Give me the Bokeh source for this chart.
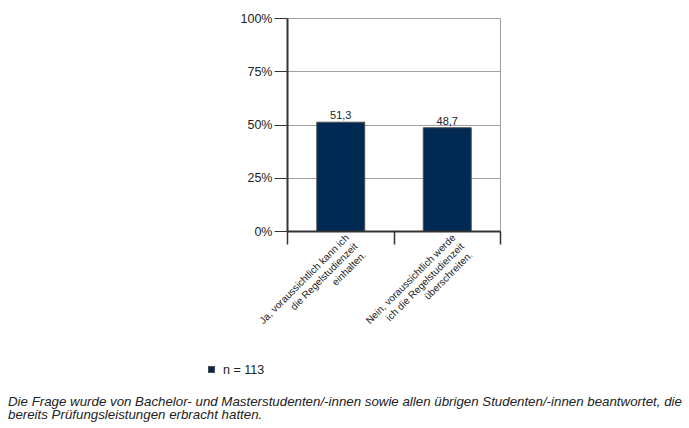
import math
from bokeh.plotting import figure
from bokeh.layouts import column
from bokeh.models import (ColumnDataSource, LabelSet, FixedTicker, Range1d, LinearAxis, Div)
from bokeh.core.properties import value
from bokeh.embed import file_html
from bokeh.resources import INLINE

categories = ["Ja, voraussichtlich kann ich\ndie Regelstudienzeit\neinhalten.",
              "Nein, voraussichtlich werde\nich die Regelstudienzeit\nüberschreiten."]
values = [51.3, 48.7]
y_ticks = [0, 25, 50, 75, 100]
y_tick_labels = ["0%", "25%", "50%", "75%", "100%"]
legend_label = "n = 113"
footnote = ["Die Frage wurde von Bachelor- und Masterstudenten/-innen sowie allen übrigen Studenten/-innen beantwortet, die",
            "bereits Prüfungsleistungen erbracht hatten."]

FONT = "Liberation Sans"
BAR = "#002a54"
EDGE = "#4d4d4d"
TXT = "#222222"
LABEL_SHIFT = 0.14  # category labels sit a little right of the bar centre

# ---------------- chart ----------------
p = figure(frame_width=213, frame_height=213, output_backend="svg", toolbar_location=None,
           x_range=Range1d(0, len(categories)), y_range=Range1d(0, 100),
           min_border_left=287, min_border_right=189, min_border_top=18, min_border_bottom=132)
p.background_fill_color = "white"
p.border_fill_color = "white"
p.outline_line_color = "#a0a0a0"
p.outline_line_width = 1

xs = [i + 0.5 for i in range(len(categories))]
src = ColumnDataSource(dict(x=xs, top=values, txt=[f"{v:.1f}".replace(".", ",") for v in values]))
bars = p.vbar(x="x", top="top", width=0.45, source=src, fill_color=BAR, line_color=EDGE, line_width=1)

p.add_layout(LabelSet(x="x", y="top", text="txt", source=src, y_offset=3, text_align="center",
                      text_baseline="bottom", text_font=value(FONT), text_font_size="11px",
                      text_color=TXT))

p.yaxis.ticker = FixedTicker(ticks=y_ticks)
p.yaxis.major_label_overrides = {t: l for t, l in zip(y_ticks, y_tick_labels)}
p.yaxis.major_tick_out = 13
p.yaxis.major_tick_in = 0
p.yaxis.minor_tick_line_color = None
p.yaxis.axis_line_color = "#333333"
p.yaxis.axis_line_width = 2
p.yaxis.major_tick_line_color = "#333333"
p.yaxis.major_label_text_font = FONT
p.yaxis.major_label_text_font_size = "12.5px"
p.yaxis.major_label_text_color = TXT
p.yaxis.major_label_standoff = 2

p.xaxis.ticker = FixedTicker(ticks=list(range(len(categories) + 1)))
p.xaxis.major_label_overrides = {i: "" for i in range(len(categories) + 1)}
p.xaxis.major_label_standoff = 0
p.xaxis.major_tick_out = 13
p.xaxis.major_tick_in = 0
p.xaxis.minor_tick_line_color = None
p.xaxis.axis_line_color = "#333333"
p.xaxis.axis_line_width = 2
p.xaxis.major_tick_line_color = "#333333"
p.xaxis.major_tick_line_width = 1.5

label_pos = [round(x + LABEL_SHIFT, 2) for x in xs]
cat_axis = LinearAxis(ticker=FixedTicker(ticks=label_pos),
                      major_label_overrides={x: c for x, c in zip(label_pos, categories)},
                      major_label_orientation=math.pi / 4,
                      major_tick_out=0, major_tick_in=0, minor_tick_line_color=None,
                      axis_line_color=None, major_tick_line_color=None,
                      major_label_standoff=0,
                      major_label_text_font=FONT, major_label_text_font_size="10px",
                      major_label_text_color=TXT, major_label_text_line_height=1.1)
p.add_layout(cat_axis, "below")

p.xgrid.grid_line_color = None
p.ygrid.grid_line_color = "#a0a0a0"
p.ygrid.ticker = FixedTicker(ticks=y_ticks)

# ---------------- legend + footnote ----------------
html = (
    f'<div style="position:relative;width:689px;height:65px;font-family:\'{FONT}\',Arial,sans-serif;color:{TXT};">'
    f'<span style="position:absolute;left:208px;top:3px;width:7px;height:7px;background:{BAR};'
    f'border:1px solid {EDGE};"></span>'
    f'<span style="position:absolute;left:223px;top:0px;font-size:12.5px;line-height:14px;white-space:nowrap;">'
    f'{legend_label}</span>'
    f'<div style="position:absolute;left:8px;top:33px;font-size:13.3px;line-height:12.5px;font-style:italic;'
    f'white-space:nowrap;">' + "<br>".join(footnote) + '</div>'
    '</div>'
)
notes = Div(text=html, width=689, height=65, margin=(0, 0, 0, 0))

layout = column(p, notes, spacing=0)
open("out.html", "w").write(file_html(layout, INLINE))
